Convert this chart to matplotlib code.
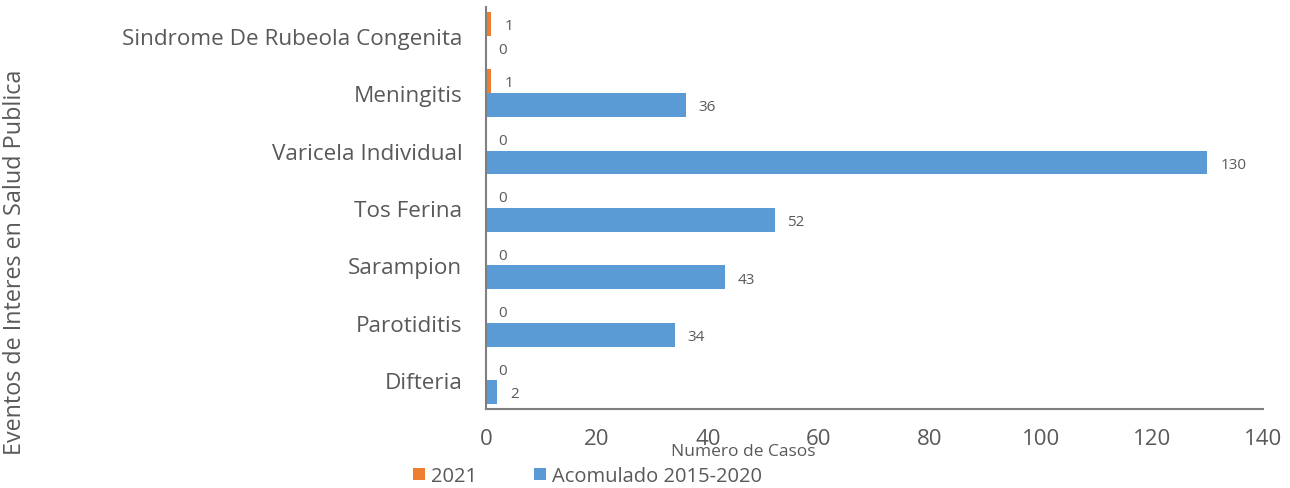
import numpy as np
import matplotlib.pyplot as plt

plt.rcParams['font.family'] = ['Open Sans', 'DejaVu Sans']

# categorias de arriba hacia abajo
eventos = ["Sindrome De Rubeola Congenita", "Meningitis", "Varicela Individual",
           "Tos Ferina", "Sarampion", "Parotiditis", "Difteria"]
casos_2021 = [1, 1, 0, 0, 0, 0, 0]
acumulado = [0, 36, 130, 52, 43, 34, 2]
xticks = [0, 20, 40, 60, 80, 100, 120, 140]

naranja = "#ED7D31"
azul = "#5B9BD5"
gris = "#595959"

fig = plt.figure(figsize=(12.9, 4.89), dpi=100)
ax = fig.add_axes([0.3767, 0.1616, 0.6023, 0.822])

y = np.arange(len(eventos))
h = 0.415
ax.barh(y - h / 2, casos_2021, height=h, color=naranja, label="2021")
ax.barh(y + h / 2, acumulado, height=h, color=azul, label="Acomulado 2015-2020")

for i in range(len(eventos)):
    ax.text(casos_2021[i] + 2.3, y[i] - h / 2 + 0.03, str(casos_2021[i]),
            va="center", ha="left", fontsize=11, color=gris)
    ax.text(acumulado[i] + 2.3, y[i] + h / 2 + 0.03, str(acumulado[i]),
            va="center", ha="left", fontsize=11, color=gris)

ax.set_ylim(len(eventos) - 0.5, -0.5)
ax.set_xlim(0, 140)
ax.set_yticks(y)
ax.set_yticklabels(eventos, fontsize=16.2, color=gris)
ax.set_xticks(xticks)
ax.set_xticklabels([str(v) for v in xticks], fontsize=16, color=gris)
ax.tick_params(axis="y", length=0, pad=17)
ax.tick_params(axis="x", length=0, pad=14)

for s in ["top", "right"]:
    ax.spines[s].set_visible(False)
for s in ["left", "bottom"]:
    ax.spines[s].set_color("#7f7f7f")
    ax.spines[s].set_linewidth(1.5)

fig.text(743 / 1290, 1 - 452 / 489, "Numero de Casos", ha="center", va="center",
         fontsize=12.5, color=gris)
fig.text(15 / 1290, 1 - 262 / 489, "Eventos de Interes en Salud Publica", rotation=90,
         ha="center", va="center", fontsize=16.8, color=gris)

fig.legend(loc="center left", bbox_to_anchor=(413 / 1290, 1 - 477 / 489), ncol=2,
           frameon=False, fontsize=14.5, labelcolor=gris, borderpad=0, borderaxespad=0,
           handlelength=0.6, handleheight=0.6, handletextpad=0.3, columnspacing=2.8)

fig.savefig("out.png", dpi=100)
